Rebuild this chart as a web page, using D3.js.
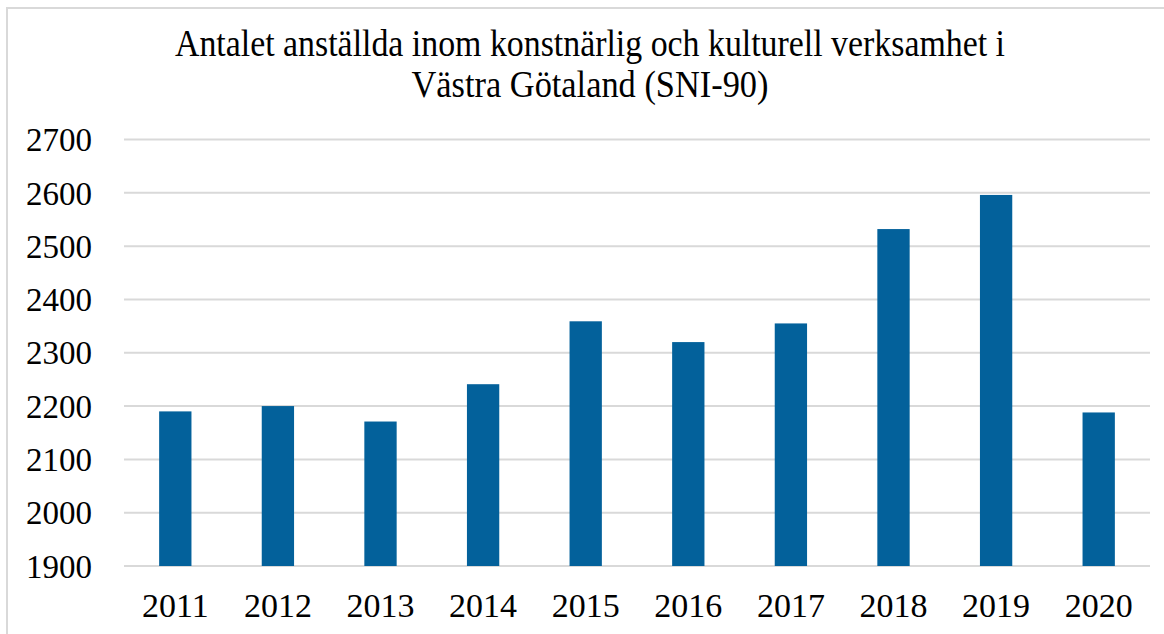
<!DOCTYPE html>
<html>
<head>
<meta charset="utf-8">
<script src="https://cdn.jsdelivr.net/npm/d3@7"></script>
<style>
  html, body { margin: 0; padding: 0; background: #fff; }
  svg { display: block; }
</style>
</head>
<body>
<svg id="chart" width="1164" height="634"></svg>
<script>
const titleLines = ["Antalet anställda inom konstnärlig och kulturell verksamhet i", "Västra Götaland (SNI-90)"];
const years = ["2011", "2012", "2013", "2014", "2015", "2016", "2017", "2018", "2019", "2020"];
const employees = [2190, 2200, 2171, 2241, 2359, 2320, 2355, 2532, 2596, 2188];
const yTicks = [1900, 2000, 2100, 2200, 2300, 2400, 2500, 2600, 2700];

const svg = d3.select("#chart");
const font = "'Liberation Serif', 'DejaVu Serif', serif";

// chart border (left and top)
svg.append("path")
  .attr("d", "M7,634 L7,8 L1164,8")
  .attr("fill", "none")
  .attr("stroke", "#d9d9d9")
  .attr("stroke-width", 2);

const plot = { left: 124, right: 1150, top: 139.5, bottom: 566 };

const x = d3.scaleBand().domain(years).range([plot.left, plot.right]).paddingInner(0.685).paddingOuter(0.3425);
const y = d3.scaleLinear().domain([1900, 2700]).range([plot.bottom, plot.top]);

// gridlines
svg.append("g")
  .selectAll("line")
  .data(yTicks)
  .join("line")
  .attr("x1", plot.left).attr("x2", plot.right)
  .attr("y1", d => y(d)).attr("y2", d => y(d))
  .attr("stroke", "#d9d9d9")
  .attr("stroke-width", 2);

// bars
svg.append("g")
  .selectAll("rect")
  .data(years.map((yr, i) => ({ yr, v: employees[i] })))
  .join("rect")
  .attr("x", d => x(d.yr))
  .attr("width", x.bandwidth())
  .attr("y", d => y(d.v))
  .attr("height", d => y(1900) - y(d.v))
  .attr("fill", "#03619b");

// y axis labels
const yAxis = d3.axisLeft(y).tickValues(yTicks).tickSize(0).tickPadding(0).tickFormat(d3.format("d"));
const gy = svg.append("g").attr("transform", "translate(92,0)").call(yAxis);
gy.select(".domain").remove();
gy.selectAll("text")
  .attr("font-family", font)
  .attr("font-size", 33)
  .attr("fill", "#000")
  .attr("dy", "0.34em");

// x axis labels
const xAxis = d3.axisBottom(x).tickSize(0).tickPadding(0);
const gx = svg.append("g").attr("transform", "translate(0,617)").call(xAxis);
gx.select(".domain").remove();
gx.selectAll("text")
  .attr("font-family", font)
  .attr("font-size", 34)
  .attr("fill", "#000")
  .attr("dy", 0);

// title
const titleCenter = 590;
const titleBaselines = [56, 96.5];
const titleWidths = [830, 357];
svg.append("g")
  .selectAll("text")
  .data(titleLines)
  .join("text")
  .attr("x", titleCenter)
  .attr("y", (d, i) => titleBaselines[i])
  .attr("text-anchor", "middle")
  .attr("font-family", font)
  .attr("font-size", 37)
  .attr("fill", "#000")
  .attr("textLength", (d, i) => titleWidths[i])
  .attr("lengthAdjust", "spacingAndGlyphs")
  .text(d => d);
</script>
</body>
</html>
